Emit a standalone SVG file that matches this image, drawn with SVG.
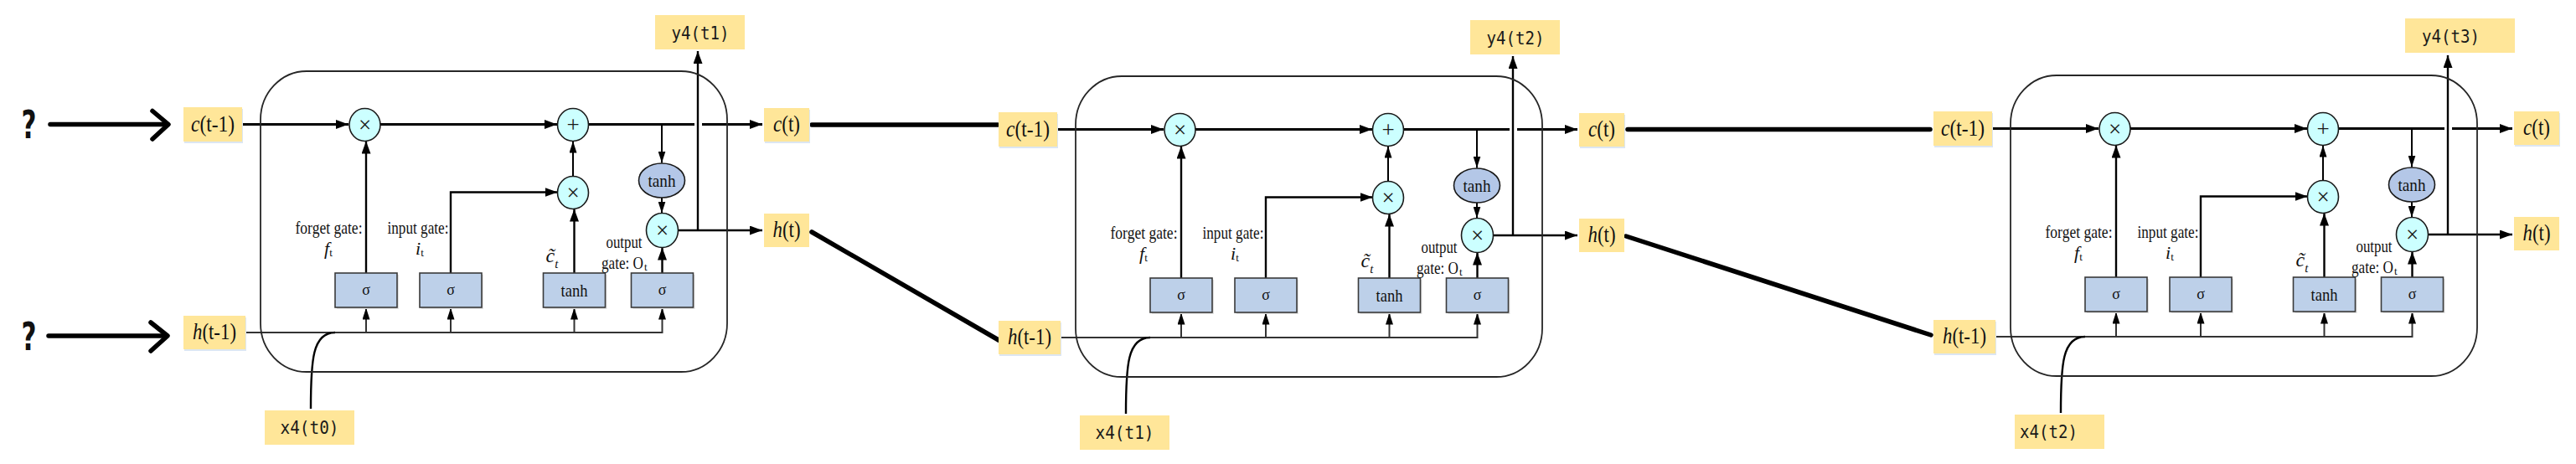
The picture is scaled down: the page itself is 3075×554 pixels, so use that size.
<svg xmlns="http://www.w3.org/2000/svg" width="3075" height="554" viewBox="0 0 3075 554">
<style>
.cell{fill:none;stroke:#262626;stroke-width:1.8}
.lbl{fill:#FFE699}
.lsh{fill:#DCE6F2}
.gsh{fill:#E2E2E2}
.gate{fill:#BDD0E9;stroke:#3a3a3a;stroke-width:1.6}
.op{fill:#CCFFFF;stroke:#1a1a1a;stroke-width:1.6}
.th{fill:#B4C7E7;stroke:#1a1a1a;stroke-width:1.6}
.cl{fill:none;stroke:#000;stroke-width:3}
.ln{fill:none;stroke:#000;stroke-width:2}
.ln2{fill:none;stroke:#000;stroke-width:2.4}
.hl{fill:none;stroke:#333;stroke-width:2}
.thick{fill:none;stroke:#000;stroke-width:5.5;stroke-linecap:round;stroke-linejoin:round}
.serif{font-family:"Liberation Serif","Times New Roman",serif;fill:#111}
.sym{font-family:"Liberation Serif","Times New Roman",serif;fill:#1a1a1a;font-size:27px;text-anchor:middle}
.mono{font-family:"DejaVu Sans Mono","Liberation Mono",monospace;font-size:21px;fill:#1a1a1a}
.q{font-family:"DejaVu Sans",sans-serif;font-weight:bold;font-size:46px;fill:#111;text-anchor:middle}
</style>
<defs>
<marker id="ah" viewBox="0 0 15 11" refX="15" refY="5.5" markerWidth="15" markerHeight="11" markerUnits="userSpaceOnUse" orient="auto"><path d="M0,0L15,5.5L0,11z" fill="#000"/></marker>
<marker id="ahs" viewBox="0 0 14 9" refX="14" refY="4.5" markerWidth="14" markerHeight="9" markerUnits="userSpaceOnUse" orient="auto"><path d="M0,0L14,4.5L0,9z" fill="#000"/></marker>
</defs>
<rect width="3075" height="554" fill="#fff"/>

<g id="connectors">
<path class="thick" d="M60,148.5H199"/>
<path class="thick" d="M182,132.5L201,148.5L182,166"/>
<path class="thick" d="M58,401H198"/>
<path class="thick" d="M180,385L200,401L180,419"/>
<path class="thick" d="M969,149H1191"/>
<path class="thick" d="M969,277L1192,406"/>
<path class="thick" d="M1943,154.5H2304"/>
<path class="thick" d="M1941,282L2305,400"/>
</g>
<g id="q1"><text class="q" x="34.5" y="165" textLength="18" lengthAdjust="spacingAndGlyphs">?</text></g>
<g id="q2"><text class="q" x="34.5" y="418" textLength="18" lengthAdjust="spacingAndGlyphs">?</text></g>

<!-- ================= CELL 1 ================= -->
<g id="cell1">
<g id="c1-connectors">
<path class="cl" d="M290,148.5H416" marker-end="url(#ah)"/>
<path class="cl" d="M454,148.5H665" marker-end="url(#ah)"/>
<path class="cl" d="M703,148.5H829"/>
<path class="cl" d="M838,148.5H910" marker-end="url(#ah)"/>
<path class="ln" d="M790,148.5V194.5" marker-end="url(#ahs)"/>
<path class="ln" d="M790,236V254.5" marker-end="url(#ahs)"/>
<path class="ln2" d="M809.5,275H910" marker-end="url(#ah)"/>
<path class="ln2" d="M833,275V61" marker-end="url(#ah)"/>
<path class="ln" d="M684,210.5V168.5" marker-end="url(#ahs)"/>
<path class="ln2" d="M437,326V168.5" marker-end="url(#ah)"/>
<path class="ln2" d="M538,326V229.5H665.5" marker-end="url(#ah)"/>
<path class="ln2" d="M685.5,326V249.5" marker-end="url(#ah)"/>
<path class="ln2" d="M790.5,326V295.5" marker-end="url(#ah)"/>
<path class="hl" d="M293,397H790.5V367.5" marker-end="url(#ahs)"/>
<path class="hl" d="M437,397V367.5" marker-end="url(#ahs)"/>
<path class="hl" d="M538,397V367.5" marker-end="url(#ahs)"/>
<path class="hl" d="M685.5,397V367.5" marker-end="url(#ahs)"/>
<path class="ln2" d="M371,488C371,430 373,397 400,397"/>
</g>
<g id="c1-cell"><rect class="cell" x="311" y="85" width="557" height="359" rx="55" ry="58"/></g>
<g id="c1-cprev"><rect class="lsh" x="220" y="130" width="70" height="41"/><rect class="lbl" x="219" y="128" width="70" height="41"/><text class="serif" x="254" y="156.5" font-size="27" text-anchor="middle" textLength="52" lengthAdjust="spacingAndGlyphs"><tspan font-style="italic">c</tspan>(t-1)</text></g>
<g id="c1-hprev"><rect class="lsh" x="220" y="379" width="74" height="40"/><rect class="lbl" x="219" y="377" width="74" height="40"/><text class="serif" x="256" y="405" font-size="27" text-anchor="middle" textLength="52" lengthAdjust="spacingAndGlyphs"><tspan font-style="italic">h</tspan>(t-1)</text></g>
<g id="c1-fmul"><ellipse class="op" cx="435.5" cy="149" rx="18.5" ry="19.5"/><text class="sym" x="435.5" y="157.5">×</text></g>
<g id="c1-add"><ellipse class="op" cx="684" cy="149" rx="18.5" ry="19.5"/><text class="sym" x="684" y="157.5">+</text></g>
<g id="c1-imul"><ellipse class="op" cx="684" cy="230" rx="18.5" ry="19.5"/><text class="sym" x="684" y="238.5">×</text></g>
<g id="c1-tanhc"><ellipse class="th" cx="790" cy="215.5" rx="27.5" ry="20.5"/><text class="serif" x="790" y="222.5" font-size="22" text-anchor="middle" textLength="33" lengthAdjust="spacingAndGlyphs">tanh</text></g>
<g id="c1-omul"><ellipse class="op" cx="790.5" cy="275" rx="19" ry="20.5"/><text class="sym" x="790.5" y="283.5">×</text></g>
<g id="c1-fgate"><rect class="gsh" x="402" y="328" width="74" height="41"/><rect class="gate" x="400" y="326" width="74" height="41"/><text class="serif" x="437" y="352" font-size="18" text-anchor="middle">σ</text></g>
<g id="c1-igate"><rect class="gsh" x="503" y="328" width="74" height="41"/><rect class="gate" x="501" y="326" width="74" height="41"/><text class="serif" x="538" y="352" font-size="18" text-anchor="middle">σ</text></g>
<g id="c1-cgate"><rect class="gsh" x="650.5" y="328" width="74" height="41"/><rect class="gate" x="648.5" y="326" width="74" height="41"/><text class="serif" x="685.5" y="353.5" font-size="22" text-anchor="middle" textLength="32" lengthAdjust="spacingAndGlyphs">tanh</text></g>
<g id="c1-ogate"><rect class="gsh" x="755.5" y="328" width="74" height="41"/><rect class="gate" x="753.5" y="326" width="74" height="41"/><text class="serif" x="790.5" y="352" font-size="18" text-anchor="middle">σ</text></g>
<g id="c1-flabel"><text class="serif" x="392.5" y="278.5" font-size="22" text-anchor="middle" textLength="80" lengthAdjust="spacingAndGlyphs">forget gate:</text><text class="serif" x="387" y="303.5" font-size="22"><tspan font-style="italic">f</tspan><tspan font-size="13" dy="2">t</tspan></text></g>
<g id="c1-ilabel"><text class="serif" x="499" y="278.5" font-size="22" text-anchor="middle" textLength="73" lengthAdjust="spacingAndGlyphs">input gate:</text><text class="serif" x="496" y="303.5" font-size="22"><tspan font-style="italic">i</tspan><tspan font-size="13" dy="2">t</tspan></text></g>
<g id="c1-clabel"><text class="serif" x="651.5" y="313" font-size="24" font-style="italic">c̃<tspan font-size="15" dy="7">t</tspan></text></g>
<g id="c1-olabel"><text class="serif" x="745" y="295.5" font-size="22" text-anchor="middle" textLength="43" lengthAdjust="spacingAndGlyphs">output</text><text class="serif" x="718" y="320.5" font-size="22" textLength="50" lengthAdjust="spacingAndGlyphs">gate: O</text><text class="serif" x="769" y="322.5" font-size="13">t</text></g>
<g id="c1-x"><rect class="lbl" x="316" y="490" width="107" height="41"/><text class="mono" x="369.5" y="518" text-anchor="middle" textLength="70" lengthAdjust="spacingAndGlyphs">x4(t0)</text></g>
<g id="c1-y"><rect class="lbl" x="782" y="18" width="107" height="41"/><text class="mono" x="836" y="47" text-anchor="middle" textLength="69" lengthAdjust="spacingAndGlyphs">y4(t1)</text></g>
<g id="c1-cout"><rect class="lsh" x="913" y="131" width="54" height="40"/><rect class="lbl" x="912" y="129" width="54" height="40"/><text class="serif" x="939" y="157" font-size="27" text-anchor="middle" textLength="32" lengthAdjust="spacingAndGlyphs"><tspan font-style="italic">c</tspan>(t)</text></g>
<g id="c1-hout"><rect class="lbl" x="912" y="255" width="54" height="40"/><text class="serif" x="939" y="283" font-size="27" text-anchor="middle" textLength="33" lengthAdjust="spacingAndGlyphs"><tspan font-style="italic">h</tspan>(t)</text></g>
</g>

<!-- ================= CELL 2 ================= -->
<g id="cell2" transform="translate(973,6)">
<g id="c2-connectors">
<path class="cl" d="M290,148.5H416" marker-end="url(#ah)"/>
<path class="cl" d="M454,148.5H665" marker-end="url(#ah)"/>
<path class="cl" d="M703,148.5H829"/>
<path class="cl" d="M838,148.5H910" marker-end="url(#ah)"/>
<path class="ln" d="M790,148.5V194.5" marker-end="url(#ahs)"/>
<path class="ln" d="M790,236V254.5" marker-end="url(#ahs)"/>
<path class="ln2" d="M809.5,275H910" marker-end="url(#ah)"/>
<path class="ln2" d="M833,275V61" marker-end="url(#ah)"/>
<path class="ln" d="M684,210.5V168.5" marker-end="url(#ahs)"/>
<path class="ln2" d="M437,326V168.5" marker-end="url(#ah)"/>
<path class="ln2" d="M538,326V229.5H665.5" marker-end="url(#ah)"/>
<path class="ln2" d="M685.5,326V249.5" marker-end="url(#ah)"/>
<path class="ln2" d="M790.5,326V295.5" marker-end="url(#ah)"/>
<path class="hl" d="M293,397H790.5V367.5" marker-end="url(#ahs)"/>
<path class="hl" d="M437,397V367.5" marker-end="url(#ahs)"/>
<path class="hl" d="M538,397V367.5" marker-end="url(#ahs)"/>
<path class="hl" d="M685.5,397V367.5" marker-end="url(#ahs)"/>
<path class="ln2" d="M371,488C371,430 373,397 400,397"/>
</g>
<g id="c2-cell"><rect class="cell" x="311" y="85" width="557" height="359" rx="55" ry="58"/></g>
<g id="c2-cprev"><rect class="lsh" x="220" y="130" width="70" height="41"/><rect class="lbl" x="219" y="128" width="70" height="41"/><text class="serif" x="254" y="156.5" font-size="27" text-anchor="middle" textLength="52" lengthAdjust="spacingAndGlyphs"><tspan font-style="italic">c</tspan>(t-1)</text></g>
<g id="c2-hprev"><rect class="lsh" x="220" y="379" width="74" height="40"/><rect class="lbl" x="219" y="377" width="74" height="40"/><text class="serif" x="256" y="405" font-size="27" text-anchor="middle" textLength="52" lengthAdjust="spacingAndGlyphs"><tspan font-style="italic">h</tspan>(t-1)</text></g>
<g id="c2-fmul"><ellipse class="op" cx="435.5" cy="149" rx="18.5" ry="19.5"/><text class="sym" x="435.5" y="157.5">×</text></g>
<g id="c2-add"><ellipse class="op" cx="684" cy="149" rx="18.5" ry="19.5"/><text class="sym" x="684" y="157.5">+</text></g>
<g id="c2-imul"><ellipse class="op" cx="684" cy="230" rx="18.5" ry="19.5"/><text class="sym" x="684" y="238.5">×</text></g>
<g id="c2-tanhc"><ellipse class="th" cx="790" cy="215.5" rx="27.5" ry="20.5"/><text class="serif" x="790" y="222.5" font-size="22" text-anchor="middle" textLength="33" lengthAdjust="spacingAndGlyphs">tanh</text></g>
<g id="c2-omul"><ellipse class="op" cx="790.5" cy="275" rx="19" ry="20.5"/><text class="sym" x="790.5" y="283.5">×</text></g>
<g id="c2-fgate"><rect class="gsh" x="402" y="328" width="74" height="41"/><rect class="gate" x="400" y="326" width="74" height="41"/><text class="serif" x="437" y="352" font-size="18" text-anchor="middle">σ</text></g>
<g id="c2-igate"><rect class="gsh" x="503" y="328" width="74" height="41"/><rect class="gate" x="501" y="326" width="74" height="41"/><text class="serif" x="538" y="352" font-size="18" text-anchor="middle">σ</text></g>
<g id="c2-cgate"><rect class="gsh" x="650.5" y="328" width="74" height="41"/><rect class="gate" x="648.5" y="326" width="74" height="41"/><text class="serif" x="685.5" y="353.5" font-size="22" text-anchor="middle" textLength="32" lengthAdjust="spacingAndGlyphs">tanh</text></g>
<g id="c2-ogate"><rect class="gsh" x="755.5" y="328" width="74" height="41"/><rect class="gate" x="753.5" y="326" width="74" height="41"/><text class="serif" x="790.5" y="352" font-size="18" text-anchor="middle">σ</text></g>
<g id="c2-flabel"><text class="serif" x="392.5" y="278.5" font-size="22" text-anchor="middle" textLength="80" lengthAdjust="spacingAndGlyphs">forget gate:</text><text class="serif" x="387" y="303.5" font-size="22"><tspan font-style="italic">f</tspan><tspan font-size="13" dy="2">t</tspan></text></g>
<g id="c2-ilabel"><text class="serif" x="499" y="278.5" font-size="22" text-anchor="middle" textLength="73" lengthAdjust="spacingAndGlyphs">input gate:</text><text class="serif" x="496" y="303.5" font-size="22"><tspan font-style="italic">i</tspan><tspan font-size="13" dy="2">t</tspan></text></g>
<g id="c2-clabel"><text class="serif" x="651.5" y="313" font-size="24" font-style="italic">c̃<tspan font-size="15" dy="7">t</tspan></text></g>
<g id="c2-olabel"><text class="serif" x="745" y="295.5" font-size="22" text-anchor="middle" textLength="43" lengthAdjust="spacingAndGlyphs">output</text><text class="serif" x="718" y="320.5" font-size="22" textLength="50" lengthAdjust="spacingAndGlyphs">gate: O</text><text class="serif" x="769" y="322.5" font-size="13">t</text></g>
<g id="c2-x"><rect class="lbl" x="316" y="490" width="107" height="41"/><text class="mono" x="369.5" y="518" text-anchor="middle" textLength="70" lengthAdjust="spacingAndGlyphs">x4(t1)</text></g>
<g id="c2-y"><rect class="lbl" x="782" y="18" width="107" height="41"/><text class="mono" x="836" y="47" text-anchor="middle" textLength="69" lengthAdjust="spacingAndGlyphs">y4(t2)</text></g>
<g id="c2-cout"><rect class="lsh" x="913" y="131" width="54" height="40"/><rect class="lbl" x="912" y="129" width="54" height="40"/><text class="serif" x="939" y="157" font-size="27" text-anchor="middle" textLength="32" lengthAdjust="spacingAndGlyphs"><tspan font-style="italic">c</tspan>(t)</text></g>
<g id="c2-hout"><rect class="lbl" x="912" y="255" width="54" height="40"/><text class="serif" x="939" y="283" font-size="27" text-anchor="middle" textLength="33" lengthAdjust="spacingAndGlyphs"><tspan font-style="italic">h</tspan>(t)</text></g>
</g>

<!-- ================= CELL 3 ================= -->
<g id="cell3" transform="translate(2089,5)">
<g id="c3-connectors">
<path class="cl" d="M290,148.5H416" marker-end="url(#ah)"/>
<path class="cl" d="M454,148.5H665" marker-end="url(#ah)"/>
<path class="cl" d="M703,148.5H829"/>
<path class="cl" d="M838,148.5H910" marker-end="url(#ah)"/>
<path class="ln" d="M790,148.5V194.5" marker-end="url(#ahs)"/>
<path class="ln" d="M790,236V254.5" marker-end="url(#ahs)"/>
<path class="ln2" d="M809.5,275H910" marker-end="url(#ah)"/>
<path class="ln2" d="M833,275V61" marker-end="url(#ah)"/>
<path class="ln" d="M684,210.5V168.5" marker-end="url(#ahs)"/>
<path class="ln2" d="M437,326V168.5" marker-end="url(#ah)"/>
<path class="ln2" d="M538,326V229.5H665.5" marker-end="url(#ah)"/>
<path class="ln2" d="M685.5,326V249.5" marker-end="url(#ah)"/>
<path class="ln2" d="M790.5,326V295.5" marker-end="url(#ah)"/>
<path class="hl" d="M293,397H790.5V367.5" marker-end="url(#ahs)"/>
<path class="hl" d="M437,397V367.5" marker-end="url(#ahs)"/>
<path class="hl" d="M538,397V367.5" marker-end="url(#ahs)"/>
<path class="hl" d="M685.5,397V367.5" marker-end="url(#ahs)"/>
<path class="ln2" d="M371,488C371,430 373,397 400,397"/>
</g>
<g id="c3-cell"><rect class="cell" x="311" y="85" width="557" height="359" rx="55" ry="58"/></g>
<g id="c3-cprev"><rect class="lsh" x="220" y="130" width="70" height="41"/><rect class="lbl" x="219" y="128" width="70" height="41"/><text class="serif" x="254" y="156.5" font-size="27" text-anchor="middle" textLength="52" lengthAdjust="spacingAndGlyphs"><tspan font-style="italic">c</tspan>(t-1)</text></g>
<g id="c3-hprev"><rect class="lsh" x="220" y="379" width="74" height="40"/><rect class="lbl" x="219" y="377" width="74" height="40"/><text class="serif" x="256" y="405" font-size="27" text-anchor="middle" textLength="52" lengthAdjust="spacingAndGlyphs"><tspan font-style="italic">h</tspan>(t-1)</text></g>
<g id="c3-fmul"><ellipse class="op" cx="435.5" cy="149" rx="18.5" ry="19.5"/><text class="sym" x="435.5" y="157.5">×</text></g>
<g id="c3-add"><ellipse class="op" cx="684" cy="149" rx="18.5" ry="19.5"/><text class="sym" x="684" y="157.5">+</text></g>
<g id="c3-imul"><ellipse class="op" cx="684" cy="230" rx="18.5" ry="19.5"/><text class="sym" x="684" y="238.5">×</text></g>
<g id="c3-tanhc"><ellipse class="th" cx="790" cy="215.5" rx="27.5" ry="20.5"/><text class="serif" x="790" y="222.5" font-size="22" text-anchor="middle" textLength="33" lengthAdjust="spacingAndGlyphs">tanh</text></g>
<g id="c3-omul"><ellipse class="op" cx="790.5" cy="275" rx="19" ry="20.5"/><text class="sym" x="790.5" y="283.5">×</text></g>
<g id="c3-fgate"><rect class="gsh" x="402" y="328" width="74" height="41"/><rect class="gate" x="400" y="326" width="74" height="41"/><text class="serif" x="437" y="352" font-size="18" text-anchor="middle">σ</text></g>
<g id="c3-igate"><rect class="gsh" x="503" y="328" width="74" height="41"/><rect class="gate" x="501" y="326" width="74" height="41"/><text class="serif" x="538" y="352" font-size="18" text-anchor="middle">σ</text></g>
<g id="c3-cgate"><rect class="gsh" x="650.5" y="328" width="74" height="41"/><rect class="gate" x="648.5" y="326" width="74" height="41"/><text class="serif" x="685.5" y="353.5" font-size="22" text-anchor="middle" textLength="32" lengthAdjust="spacingAndGlyphs">tanh</text></g>
<g id="c3-ogate"><rect class="gsh" x="755.5" y="328" width="74" height="41"/><rect class="gate" x="753.5" y="326" width="74" height="41"/><text class="serif" x="790.5" y="352" font-size="18" text-anchor="middle">σ</text></g>
<g id="c3-flabel"><text class="serif" x="392.5" y="278.5" font-size="22" text-anchor="middle" textLength="80" lengthAdjust="spacingAndGlyphs">forget gate:</text><text class="serif" x="387" y="303.5" font-size="22"><tspan font-style="italic">f</tspan><tspan font-size="13" dy="2">t</tspan></text></g>
<g id="c3-ilabel"><text class="serif" x="499" y="278.5" font-size="22" text-anchor="middle" textLength="73" lengthAdjust="spacingAndGlyphs">input gate:</text><text class="serif" x="496" y="303.5" font-size="22"><tspan font-style="italic">i</tspan><tspan font-size="13" dy="2">t</tspan></text></g>
<g id="c3-clabel"><text class="serif" x="651.5" y="313" font-size="24" font-style="italic">c̃<tspan font-size="15" dy="7">t</tspan></text></g>
<g id="c3-olabel"><text class="serif" x="745" y="295.5" font-size="22" text-anchor="middle" textLength="43" lengthAdjust="spacingAndGlyphs">output</text><text class="serif" x="718" y="320.5" font-size="22" textLength="50" lengthAdjust="spacingAndGlyphs">gate: O</text><text class="serif" x="769" y="322.5" font-size="13">t</text></g>
<g id="c3-x"><rect class="lbl" x="316" y="490" width="107" height="41"/><text class="mono" x="322" y="518" textLength="69" lengthAdjust="spacingAndGlyphs">x4(t2)</text></g>
<g id="c3-y"><rect class="lbl" x="782" y="17" width="131" height="41"/><text class="mono" x="802" y="46" textLength="69" lengthAdjust="spacingAndGlyphs">y4(t3)</text></g>
<g id="c3-cout"><rect class="lsh" x="913" y="130" width="54" height="40"/><rect class="lbl" x="912" y="128" width="54" height="40"/><text class="serif" x="939" y="156" font-size="27" text-anchor="middle" textLength="32" lengthAdjust="spacingAndGlyphs"><tspan font-style="italic">c</tspan>(t)</text></g>
<g id="c3-hout"><rect class="lbl" x="912" y="254" width="54" height="40"/><text class="serif" x="939" y="282" font-size="27" text-anchor="middle" textLength="33" lengthAdjust="spacingAndGlyphs"><tspan font-style="italic">h</tspan>(t)</text></g>
</g>
</svg>
